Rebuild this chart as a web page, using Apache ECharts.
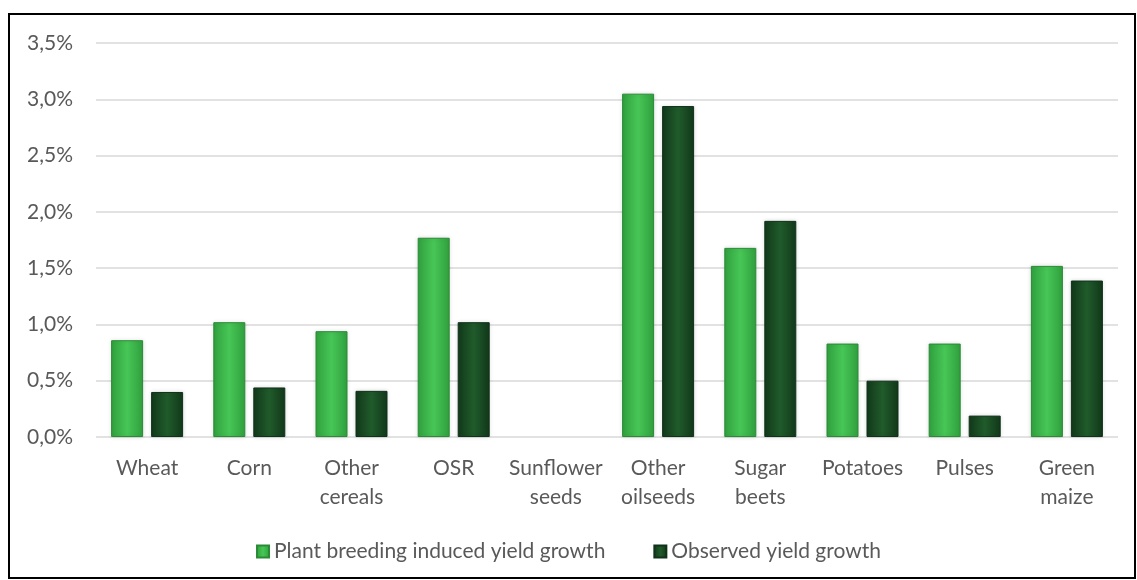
<!DOCTYPE html>
<html>
<head>
<meta charset="utf-8">
<script src="https://cdn.jsdelivr.net/npm/echarts@6/dist/echarts.min.js"></script>
<style>
  html, body { margin: 0; padding: 0; background: #fff; }
  #chart { width: 1137px; height: 580px; }
</style>
</head>
<body>
<div id="chart"></div>
<script>
// categories and values (in %)
var categories = ["Wheat", "Corn", "Other\ncereals", "OSR", "Sunflower\nseeds", "Other\noilseeds", "Sugar\nbeets", "Potatoes", "Pulses", "Green\nmaize"];
var breedingGrowth = [0.86, 1.02, 0.94, 1.77, 0, 3.05, 1.68, 0.83, 0.83, 1.52];
var observedGrowth = [0.40, 0.44, 0.41, 1.02, 0, 2.94, 1.92, 0.50, 0.19, 1.39];
var seriesNames = ["Plant breeding induced yield growth", "Observed yield growth"];

function barGradient(edge, mid) {
  return new echarts.graphic.LinearGradient(0, 0, 1, 0, [
    { offset: 0, color: edge },
    { offset: 0.5, color: mid },
    { offset: 1, color: edge }
  ]);
}

// zero values get no border so nothing shows
function barData(values) {
  return values.map(function (v) {
    return v === 0 ? { value: v, itemStyle: { borderWidth: 0, shadowBlur: 0 } } : v;
  });
}

var chart = echarts.init(document.getElementById("chart"));
var textColor = "#595959";
var font = "Lato, Open Sans, sans-serif";

var option = {
  backgroundColor: "#fff",
  animation: false,
  grid: { left: 96, right: 19, top: 43, bottom: 143 },
  graphic: [{
    type: "rect",
    shape: { x: 9, y: 14, width: 1126, height: 564 },
    style: { fill: "none", stroke: "#000", lineWidth: 2 },
    silent: true
  }],
  legend: {
    bottom: 13,
    left: "center",
    itemWidth: 12,
    itemHeight: 12,
    itemGap: 48,
    icon: "rect",
    textStyle: { color: textColor, fontSize: 21, fontFamily: font },
    data: seriesNames
  },
  xAxis: {
    type: "category",
    data: categories,
    axisLine: { show: false },
    axisTick: { show: false },
    axisLabel: {
      color: textColor,
      fontSize: 21,
      fontFamily: font,
      lineHeight: 29,
      margin: 17,
      interval: 0
    }
  },
  yAxis: {
    type: "value",
    min: 0,
    max: 3.5,
    interval: 0.5,
    axisLine: { show: false },
    axisTick: { show: false },
    splitLine: { lineStyle: { color: "#d9d9d9", width: 1.5 } },
    axisLabel: {
      color: textColor,
      fontSize: 21,
      fontFamily: font,
      margin: 23,
      formatter: function (v) { return v.toFixed(1).replace(".", ",") + "%"; }
    }
  },
  series: [
    {
      name: seriesNames[0],
      type: "bar",
      data: barData(breedingGrowth),
      barWidth: 32,
      barGap: "25%",
      itemStyle: {
        color: barGradient("#30a03e", "#47c656"),
        borderColor: "#2a8a36",
        borderWidth: 1,
        shadowColor: "rgba(0,0,0,0.12)",
        shadowBlur: 4
      }
    },
    {
      name: seriesNames[1],
      type: "bar",
      data: barData(observedGrowth),
      barWidth: 32,
      itemStyle: {
        color: barGradient("#12381a", "#205b2b"),
        borderColor: "#10321a",
        borderWidth: 1,
        shadowColor: "rgba(0,0,0,0.12)",
        shadowBlur: 4
      }
    }
  ]
};

chart.setOption(option);
</script>
</body>
</html>
